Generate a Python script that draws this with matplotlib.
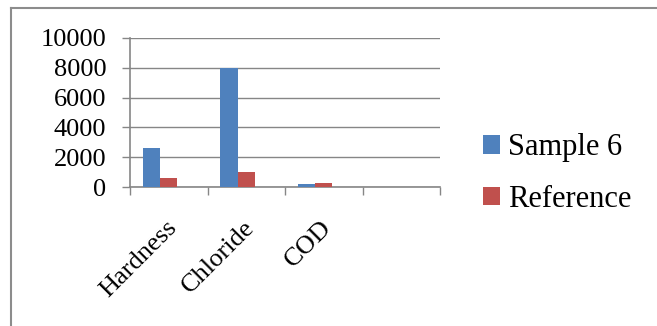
import matplotlib
matplotlib.use("Agg")
import matplotlib.pyplot as plt
from matplotlib.lines import Line2D
from matplotlib.patches import Patch
import numpy as np

categories = ["Hardness", "Chloride", "COD", ""]
sample6 = [2600, 8000, 200, np.nan]
reference = [600, 1000, 250, np.nan]
series_names = ["Sample 6", "Reference"]
colors = ["#4F81BD", "#C0504D"]
yticks = [0, 2000, 4000, 6000, 8000, 10000]

plt.rcParams["font.family"] = ["Liberation Serif", "DejaVu Serif"]

fig = plt.figure(figsize=(6.57, 3.26), dpi=100)
ax = fig.add_axes([130 / 657, 1 - 187 / 326, 310 / 657, 149 / 326])

x = np.arange(len(categories))
bw = 1 / 4.5  # three slots per group, gap width 150%
for i, (vals, col) in enumerate(zip([sample6, reference], colors)):
    ax.bar(x + (i - 1) * bw, vals, width=bw, color=col, align="center", zorder=3)

ax.set_xlim(-0.5, len(categories) - 0.5)
ax.set_ylim(0, 10000)
ax.set_yticks(yticks)
ax.yaxis.grid(True, color="#868686", linewidth=1, zorder=0)

grey = "#868686"
for side in ["top", "right"]:
    ax.spines[side].set_visible(False)
ax.spines["left"].set_color(grey)
ax.spines["bottom"].set_color(grey)
ax.spines["left"].set_linewidth(1.2)
ax.spines["bottom"].set_linewidth(1.2)

ax.tick_params(axis="y", length=6, width=1, color=grey, labelsize=19, pad=11)
ax.set_xticks(x)
ax.set_xticklabels([])
ax.set_xticks(np.arange(len(categories) + 1) - 0.5, minor=True)
ax.tick_params(axis="x", which="major", length=0)
ax.tick_params(axis="x", which="minor", length=6, width=1, color=grey)

for xi, lab in zip(x, categories):
    ax.text(xi + 0.06, -2500, lab, rotation=45, rotation_mode="anchor",
            ha="right", va="center", fontsize=19, transform=ax.transData,
            clip_on=False)

handles = [Patch(facecolor=c, edgecolor="none") for c in colors]
fig.legend(handles, series_names, loc="upper left",
           bbox_to_anchor=(483 / 657, 1 - 133 / 326), frameon=False,
           fontsize=22, handlelength=0.56, handleheight=0.56,
           handletextpad=0.25, labelspacing=0.75, borderpad=0, borderaxespad=0)

# chart area frame (top and left edges)
fig.add_artist(Line2D([11 / 657, 1], [1 - 8 / 326, 1 - 8 / 326],
                      transform=fig.transFigure, color="#8C8C8C", linewidth=1.5))
fig.add_artist(Line2D([11 / 657, 11 / 657], [0, 1 - 8 / 326],
                      transform=fig.transFigure, color="#8C8C8C", linewidth=1.5))

fig.savefig("out.png", dpi=100, facecolor="white")
